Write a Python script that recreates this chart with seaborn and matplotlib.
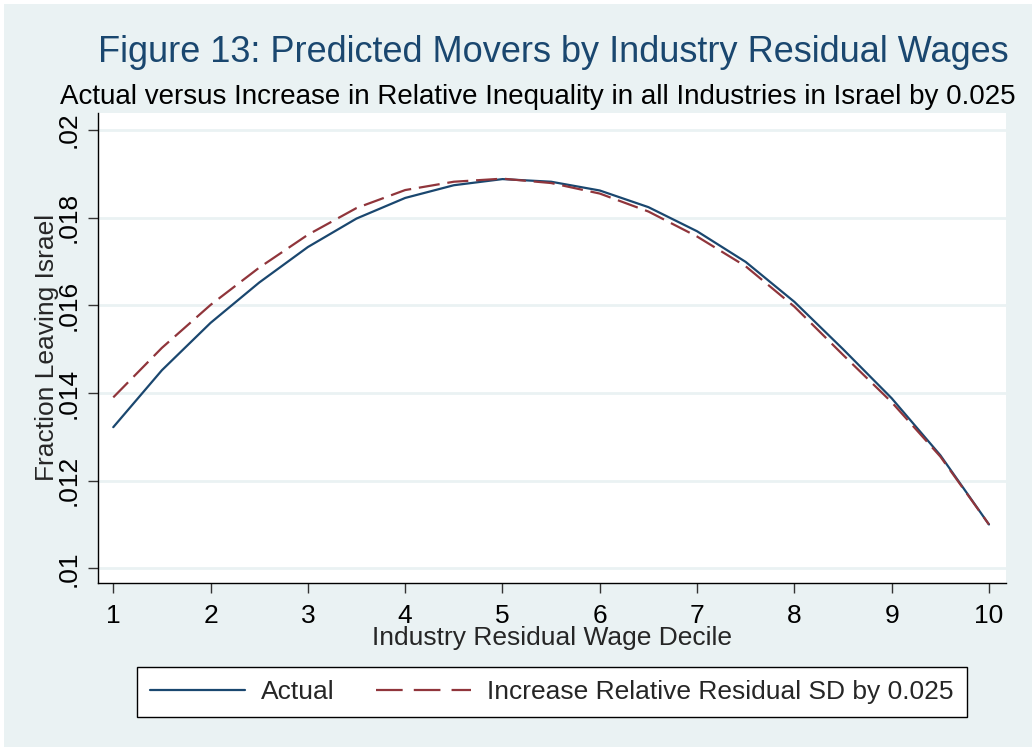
import pandas as pd
import seaborn as sns
import matplotlib.pyplot as plt
from matplotlib.patches import Rectangle

# values (fraction leaving Israel by decile)
deciles = [1, 1.5, 2, 2.5, 3, 3.5, 4, 4.5, 5, 5.5, 6, 6.5, 7, 7.5, 8, 8.5, 9, 9.5, 10]
actual = [.01322, .01452, .01560, .01652, .01733, .01798, .01845, .01874, .01888, .01882,
          .01862, .01824, .01769, .01699, .01608, .01500, .01388, .01258, .01100]
increase = [.01390, .01503, .01601, .01686, .01761, .01822, .01863, .01882, .01889, .01879,
            .01855, .01814, .01757, .01689, .01597, .01487, .01379, .01255, .01100]
series_names = ['Actual', 'Increase Relative Residual SD by 0.025']
x_ticks = [1, 2, 3, 4, 5, 6, 7, 8, 9, 10]
y_ticks = [.01, .012, .014, .016, .018, .02]
y_tick_labels = ['.01', '.012', '.014', '.016', '.018', '.02']

df = pd.DataFrame({
    'decile': deciles * 2,
    'value': actual + increase,
    'series': [series_names[0]] * len(deciles) + [series_names[1]] * len(deciles),
})

sns.set_style('white')
plt.rcParams['font.family'] = ['Liberation Sans', 'DejaVu Sans']

bg = '#EAF2F3'
navy = '#1A476F'
maroon = '#90353B'
dash = [9.5, 3.5]

fig = plt.figure(figsize=(10.32, 7.51), dpi=100)
fig.patch.set_facecolor('white')
fig.patches.append(Rectangle((4 / 1032, 4 / 751), 1 - 4 / 1032, 1 - 8 / 751,
                             transform=fig.transFigure, facecolor=bg, edgecolor='none', zorder=-10))

ax = fig.add_axes([97.7 / 1032, 1 - 583 / 751, (1006 - 97.7) / 1032, (583 - 113) / 751])
ax.set_facecolor('white')

sns.lineplot(data=df, x='decile', y='value', hue='series',
             palette=[navy, maroon], linewidth=1.6, ax=ax, legend=False,
             estimator=None, sort=False)
ax.get_lines()[1].set_dashes(dash)

ax.set_xlim(0.84, 10.175)
ax.set_ylim(.009665, .020388)
ax.set_xticks(x_ticks)
ax.set_yticks(y_ticks)
ax.set_yticklabels(y_tick_labels)
ax.yaxis.grid(True, color=bg, linewidth=2)
ax.set_axisbelow(True)

for s in ['top', 'right']:
    ax.spines[s].set_visible(False)
for s in ['left', 'bottom']:
    ax.spines[s].set_color('black')
    ax.spines[s].set_linewidth(1.0)

ax.tick_params(axis='both', direction='out', length=7, width=1, color='#333333',
               labelsize=19, labelcolor='black', left=True, bottom=True)
ax.tick_params(axis='y', labelrotation=90, pad=5)
ax.tick_params(axis='x', pad=8)
for lab in ax.get_yticklabels():
    lab.set_va('center')

ax.set_xlabel('Industry Residual Wage Decile', fontsize=19)
ax.xaxis.set_label_coords(0.5, -55 / 470)
ax.xaxis.label.set_va('center')
ax.set_ylabel('')
fig.text(47 / 1032, 1 - 347 / 751, 'Fraction Leaving Israel', rotation=90,
         ha='center', va='center', fontsize=19)

fig.text(553 / 1032, 1 - 52 / 751, 'Figure 13: Predicted Movers by Industry Residual Wages',
         ha='center', va='center', fontsize=26, color=navy)
fig.text(60 / 1032, 1 - 97 / 751,
         'Actual versus Increase in Relative Inequality in all Industries in Israel by 0.025',
         ha='left', va='center', fontsize=20, color='black')

handles = [plt.Line2D([], [], color=navy, linewidth=1.6),
           plt.Line2D([], [], color=maroon, linewidth=1.6, dashes=[12, 5])]
leg = fig.legend(handles, series_names, loc='lower left', ncol=2, mode='expand',
                 bbox_to_anchor=(137 / 1032, 1 - 717 / 751, 830 / 1032, 50 / 751),
                 fontsize=19, frameon=True, fancybox=False, framealpha=1,
                 handlelength=3.6, borderpad=0.5, handletextpad=0.6, borderaxespad=0)
leg.get_frame().set_edgecolor('black')
leg.get_frame().set_linewidth(1.0)
leg.get_frame().set_facecolor('white')

fig.savefig('out.png', dpi=100, facecolor=fig.get_facecolor())
